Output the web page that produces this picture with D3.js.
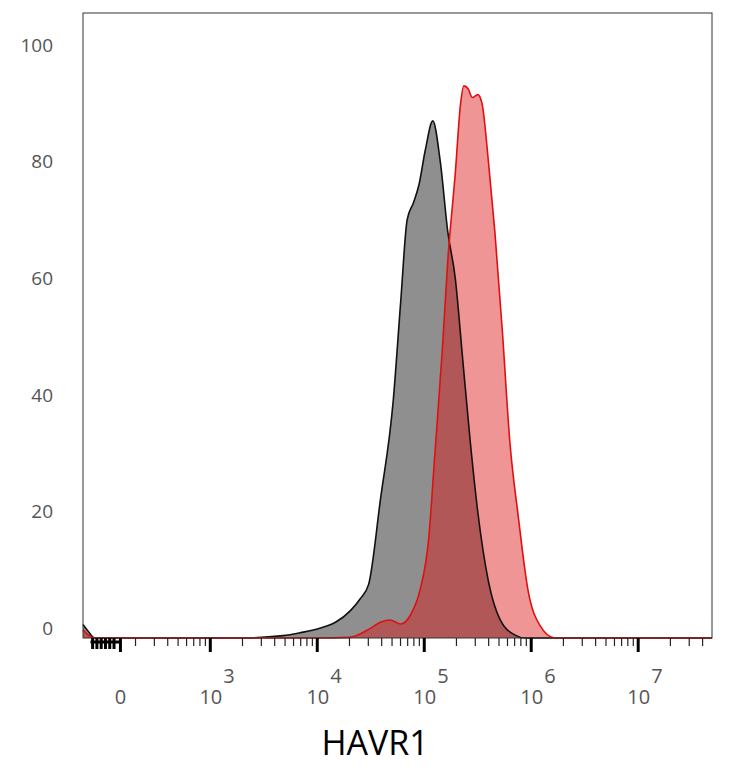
<!DOCTYPE html>
<html><head><meta charset="utf-8">
<script src="https://cdn.jsdelivr.net/npm/d3@7"></script>
<style>body{margin:0;background:#fff;font-family:"Open Sans",sans-serif}</style>
</head><body><div id="chart"></div>
<script>
// x values are in decade units (log10 of HAVR1 signal), y is % of max
var blackSeries = [[1.81,0.6],[1.86,-0.6],[1.92,-1.7],[3.28,-1.7],[3.68,-1.3],[3.84,-0.8],[4.03,0],[4.17,1],[4.31,3],[4.40,5],[4.48,7.5],
  [4.59,22],[4.71,39],[4.78,56],[4.84,70],[4.90,73],[4.95,76],[5.01,82],[5.08,87],[5.15,80],[5.22,68],[5.29,60],
  [5.36,46],[5.43,32],[5.50,20],[5.60,8],[5.71,1.4],[5.85,-1.2],[5.94,-1.7],[7.69,-1.7]];
var redSeries = [[1.81,-0.3],[1.86,-1.2],[1.92,-1.7],[4.0,-1.7],[4.30,-1.6],[4.50,0],[4.59,1],[4.68,1.4],[4.78,0.7],[4.87,2.2],[4.96,6.5],
  [5.04,15],[5.10,30],[5.17,48],[5.22,63],[5.29,78],[5.34,90],[5.37,93],[5.41,92.5],[5.45,91],[5.50,91.5],
  [5.54,90],[5.60,80],[5.66,68],[5.73,51],[5.80,32],[5.88,19],[5.97,6.5],[6.08,0.5],[6.22,-1.7],[7.69,-1.7]];
var yTicks = [0,20,40,60,80,100];
var decadeTicks = [3,4,5,6,7];
var zeroTick = 2.16;
var zeroRegionTicks = [1.90,1.94,1.98,2.02,2.06,2.10,2.16];

var margin = {top: 13, left: 83};
var width = 629, height = 625;
var svg = d3.select("#chart").append("svg").attr("width",734).attr("height",768);
var g = svg.append("g").attr("transform",`translate(${margin.left},${margin.top})`);

var x = d3.scaleLinear().domain([1.81,7.69]).range([0,width]);
var y = d3.scaleLinear().domain([-1.7,105.5]).range([height,0]);

var area = d3.area().x(d => x(d[0])).y0(y(-1.7)).y1(d => y(d[1])).curve(d3.curveMonotoneX);
var line = d3.line().x(d => x(d[0])).y(d => y(d[1])).curve(d3.curveMonotoneX);

g.append("path").datum(blackSeries).attr("d",area).attr("fill","#8f8f8f");
g.append("path").datum(redSeries).attr("d",area).attr("fill","rgb(220,20,20)").attr("fill-opacity",0.45);
g.append("path").datum(blackSeries).attr("d",line).attr("fill","none").attr("stroke","#111").attr("stroke-width",1.6);
g.append("path").datum(redSeries).attr("d",line).attr("fill","none").attr("stroke","#e01010").attr("stroke-width",1.6);

g.append("rect").attr("width",width).attr("height",height).attr("fill","none").attr("stroke","#333").attr("stroke-width",1);

// y axis labels
g.selectAll(".ylab").data(yTicks).enter().append("text")
  .attr("x",-30).attr("y",d => y(d)).attr("dy","0.35em").attr("text-anchor","end")
  .attr("font-size",19).attr("fill","#555").text(d => d);

// x ticks
var minor = [];
for (var dec = 2; dec <= 7; dec++) {
  for (var k = 2; k <= 9; k++) {
    var v = dec + Math.log10(k);
    if (v > 2.28 && v < 7.69) minor.push(v);
  }
}
g.selectAll(".minor").data(minor).enter().append("line")
  .attr("x1",d => x(d)).attr("x2",d => x(d)).attr("y1",height).attr("y2",height+8)
  .attr("stroke","#222").attr("stroke-width",1.2);
g.selectAll(".major").data(decadeTicks).enter().append("line")
  .attr("x1",d => x(d)).attr("x2",d => x(d)).attr("y1",height).attr("y2",height+14)
  .attr("stroke","#000").attr("stroke-width",3);
g.selectAll(".zr").data(zeroRegionTicks).enter().append("line")
  .attr("x1",d => x(d)).attr("x2",d => x(d)).attr("y1",height).attr("y2",d => height + (d === zeroTick ? 14 : 11))
  .attr("stroke","#000").attr("stroke-width",3);
g.append("line").attr("x1",x(1.88)).attr("x2",x(zeroTick)).attr("y1",height+4).attr("y2",height+4)
  .attr("stroke","#000").attr("stroke-width",3);

// x labels
g.append("text").attr("x",x(zeroTick)).attr("y",height+66).attr("text-anchor","middle")
  .attr("font-size",20).attr("fill","#555").text("0");
decadeTicks.forEach(function(dc) {
  var t = g.append("text").attr("x",x(dc)+12).attr("y",height+66).attr("text-anchor","end")
    .attr("font-size",20).attr("fill","#555");
  t.text("10");
  g.append("text").attr("x",x(dc)+13).attr("y",height+45).attr("font-size",20).attr("fill","#555").text(dc);
});

g.append("text").attr("x",x(4.54)).attr("y",height+117).attr("text-anchor","middle")
  .attr("font-size",34).attr("fill","#000").text("HAVR1");
</script></body></html>
